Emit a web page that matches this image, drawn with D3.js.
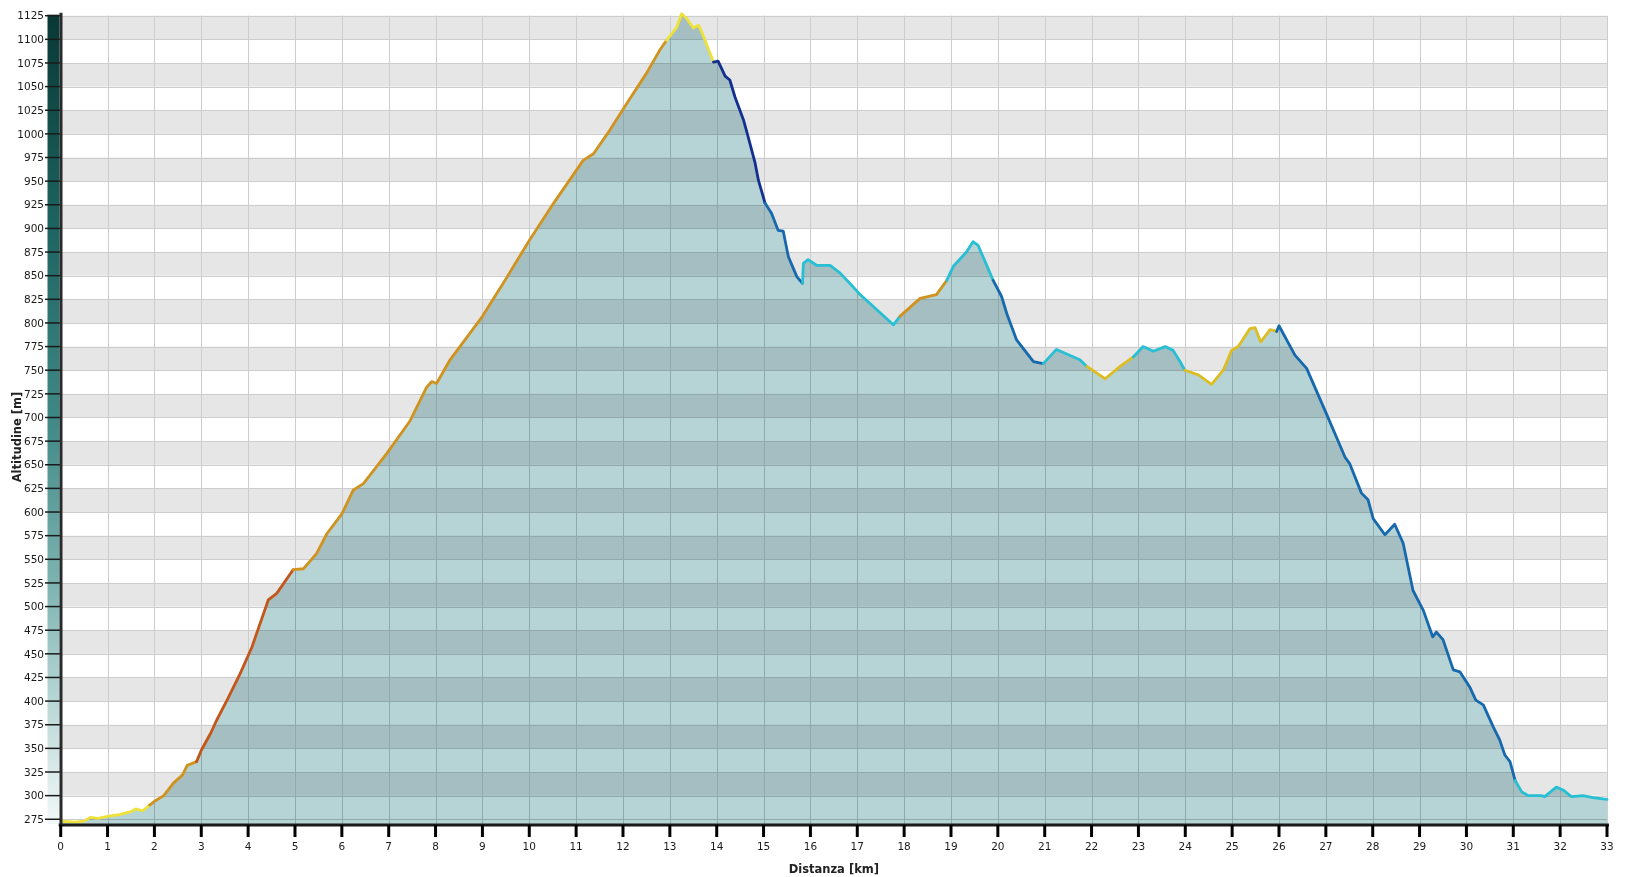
<!DOCTYPE html>
<html>
<head>
<meta charset="utf-8">
<script src="https://cdn.jsdelivr.net/npm/d3@7"></script>
<style>
  html, body { margin: 0; padding: 0; background: #fff; }
  svg { display: block; font-family: "DejaVu Sans", Verdana, sans-serif; }
</style>
</head>
<body>
<svg id="profilo" width="1637" height="877"></svg>
<script>
var distKm = [0, 0.3, 0.5, 0.63, 0.8, 1.0, 1.25, 1.5, 1.6, 1.75, 1.9, 2.0, 2.2, 2.4, 2.6, 2.7, 2.9, 3.0, 3.2, 3.33,
    3.55, 3.83, 4.08, 4.43, 4.61, 4.96, 5.18, 5.46, 5.68, 6.0, 6.24, 6.46, 6.96, 7.45, 7.81, 7.92, 8.02, 8.31, 9.0, 9.48,
    10.01, 10.51, 11.15, 11.37, 11.72, 12.08, 12.5, 12.79, 12.93, 13.15, 13.25, 13.36, 13.5, 13.61, 13.68, 13.79, 13.93, 14.03, 14.18, 14.28,
    14.39, 14.57, 14.67, 14.82, 14.89, 15.03, 15.17, 15.31, 15.42, 15.53, 15.71, 15.83, 15.85, 15.95, 16.13, 16.42, 16.63, 16.84, 17.06, 17.77,
    17.91, 18.34, 18.69, 18.91, 19.05, 19.33, 19.47, 19.58, 19.9, 20.08, 20.19, 20.4, 20.76, 20.97, 21.25, 21.75, 21.9, 22.29, 22.61, 22.89,
    23.1, 23.32, 23.57, 23.74, 23.89, 23.99, 24.28, 24.56, 24.81, 24.99, 25.13, 25.38, 25.49, 25.61, 25.81, 25.95, 26.0, 26.34, 26.59, 27.02,
    27.41, 27.51, 27.76, 27.9, 28.01, 28.26, 28.47, 28.65, 28.86, 29.08, 29.28, 29.36, 29.5, 29.72, 29.86, 30.07, 30.2, 30.36, 30.57, 30.71,
    30.82, 30.93, 31.04, 31.18, 31.32, 31.6, 31.67, 31.92, 32.06, 32.24, 32.49, 32.7, 33.0];
var altM = [273, 272, 273, 277, 276, 278, 280, 283, 286, 284, 290, 294, 300, 313, 322, 332, 336, 348, 366, 380,
    401, 429, 457, 507, 514, 539, 540, 556, 577, 598, 623, 630, 662, 696, 732, 738, 736, 761, 807, 845,
    888, 926, 972, 979, 1004, 1032, 1064, 1089, 1099, 1113, 1127, 1122, 1112, 1115, 1108, 1094, 1076, 1077, 1061, 1057,
    1039, 1015, 997, 969, 951, 927, 916, 898, 897, 870, 849, 842, 863, 867, 861, 861, 853, 842, 830, 798,
    807, 826, 830, 845, 860, 875, 886, 882, 845, 828, 810, 782, 759, 757, 772, 761, 754, 741, 754, 764,
    775, 770, 775, 771, 759, 750, 745, 735, 750, 771, 775, 794, 795, 780, 793, 791, 797, 766, 752, 703,
    658, 651, 620, 613, 593, 576, 587, 567, 517, 496, 468, 473, 465, 433, 431, 415, 401, 396, 373, 359,
    343, 336, 316, 304, 300, 300, 299, 309, 306, 299, 300, 298, 296];

// tratti colorati della traccia
var segFrom = [0, 1.9, 2.9, 4.96, 12.93, 13.93, 15.03, 15.83, 17.91, 18.91, 19.9, 20.97, 21.9, 22.89, 23.99, 25.95, 31.04];
var segTo = [1.9, 2.9, 4.96, 12.93, 13.93, 15.03, 15.83, 17.91, 18.91, 19.9, 20.97, 21.9, 22.89, 23.99, 25.95, 31.04, 33];
var segTipo = ["giallo", "arancio", "ruggine", "arancio", "giallo", "blu scuro", "blu", "ciano", "arancio", "ciano",
    "blu", "ciano", "ambra", "ciano", "ambra", "blu", "ciano"];

var xTicks = d3.range(0, 34);
var yTicks = d3.range(275, 1126, 25);

var colori = {
    "giallo": "#ece23a",
    "ambra": "#dcbd24",
    "arancio": "#d0931f",
    "ruggine": "#c4561a",
    "ciano": "#27bfd3",
    "blu": "#1769ad",
    "blu scuro": "#132f8f"
};

var svg = d3.select("#profilo");
var x = d3.scaleLinear().domain([0, 33]).range([60.7, 1607]);
var y = d3.scaleLinear().domain([270, 1125]).range([824, 15.7]);

var punti = distKm.map(function (d, i) { return { km: d, m: altM[i] }; });

// fasce grigie alternate
var fasce = yTicks.filter(function (v, i) { return i % 2 === 1 && v < 1125; });
svg.append("g").selectAll("rect").data(fasce).enter().append("rect")
    .attr("x", x(0) + 1).attr("width", x(33) - x(0) - 1)
    .attr("y", function (d) { return y(d + 25); })
    .attr("height", function (d) { return y(d) - y(d + 25); })
    .attr("fill", "#e6e6e6");

// griglia
var griglia = svg.append("g").attr("stroke", "#cdcdcd").attr("stroke-width", 1);
griglia.selectAll("line.v").data(xTicks.slice(1)).enter().append("line")
    .attr("x1", function (d) { return Math.round(x(d)) + 0.5; })
    .attr("x2", function (d) { return Math.round(x(d)) + 0.5; })
    .attr("y1", y(1125)).attr("y2", y(270));
griglia.selectAll("line.h").data(yTicks).enter().append("line")
    .attr("x1", x(0)).attr("x2", x(33))
    .attr("y1", function (d) { return Math.round(y(d)) + 0.5; })
    .attr("y2", function (d) { return Math.round(y(d)) + 0.5; });

// area sotto il profilo
var area = d3.area()
    .x(function (d) { return x(d.km); })
    .y0(y(270))
    .y1(function (d) { return y(d.m); });
svg.append("path").datum(punti)
    .attr("d", area)
    .attr("fill", "#b6d3d6")
    .style("mix-blend-mode", "multiply");

// linea colorata per tratti
var linea = d3.line()
    .x(function (d) { return x(d.km); })
    .y(function (d) { return y(d.m); });
var gLinea = svg.append("g").attr("fill", "none").attr("stroke-width", 2.8)
    .attr("stroke-linejoin", "round").attr("stroke-linecap", "round");
segFrom.forEach(function (a, i) {
    var b = segTo[i];
    var tratto = punti.filter(function (p) { return p.km >= a - 1e-9 && p.km <= b + 1e-9; });
    gLinea.append("path").datum(tratto)
        .attr("d", linea)
        .attr("stroke", colori[segTipo[i]]);
});

// barra colorata a sinistra
var grad = svg.append("defs").append("linearGradient")
    .attr("id", "barra").attr("x1", 0).attr("y1", 0).attr("x2", 0).attr("y2", 1);
[[0, "#093836"], [0.25, "#1c625e"], [0.5, "#3f8985"], [0.7, "#7cb3b1"], [0.85, "#b9d7d6"], [1, "#f2f8f8"]].forEach(function (s) {
    grad.append("stop").attr("offset", s[0]).attr("stop-color", s[1]);
});
svg.append("rect")
    .attr("x", 47.5).attr("width", 12)
    .attr("y", y(1125) - 1).attr("height", y(270) - y(1125) + 1)
    .attr("fill", "url(#barra)");

// asse y
var gy = svg.append("g");
gy.selectAll("line").data(yTicks).enter().append("line")
    .attr("x1", 45).attr("x2", 60)
    .attr("y1", function (d) { return y(d); }).attr("y2", function (d) { return y(d); })
    .attr("stroke", "#1a1a1a").attr("stroke-width", 1.5);
gy.selectAll("text").data(yTicks).enter().append("text")
    .attr("x", 44).attr("y", function (d) { return y(d); })
    .attr("dy", "0.35em").attr("text-anchor", "end")
    .attr("font-size", 10.5).attr("fill", "#1a1a1a")
    .text(function (d) { return d; });
svg.append("line")
    .attr("x1", 61).attr("x2", 61).attr("y1", y(1125) - 3).attr("y2", y(270) + 2)
    .attr("stroke", "#2a2a2a").attr("stroke-width", 3);

// asse x
svg.append("line")
    .attr("x1", x(0) - 2).attr("x2", x(33) + 2).attr("y1", 825).attr("y2", 825)
    .attr("stroke", "#1a1a1a").attr("stroke-width", 3);
var gx = svg.append("g");
gx.selectAll("line").data(xTicks).enter().append("line")
    .attr("x1", function (d) { return x(d); }).attr("x2", function (d) { return x(d); })
    .attr("y1", 825).attr("y2", 837)
    .attr("stroke", "#000").attr("stroke-width", 3);
gx.selectAll("text").data(xTicks).enter().append("text")
    .attr("x", function (d) { return x(d); }).attr("y", 850)
    .attr("text-anchor", "middle").attr("font-size", 10.5).attr("fill", "#1a1a1a")
    .text(function (d) { return d; });

// titoli
svg.append("text")
    .attr("x", (x(0) + x(33)) / 2).attr("y", 873)
    .attr("text-anchor", "middle").attr("font-size", 11.5).attr("font-weight", "bold").attr("fill", "#222")
    .text("Distanza [km]");
svg.append("text")
    .attr("transform", "translate(21,437) rotate(-90)")
    .attr("text-anchor", "middle").attr("font-size", 11.5).attr("font-weight", "bold").attr("fill", "#222")
    .text("Altitudine [m]");
</script>
</body>
</html>
